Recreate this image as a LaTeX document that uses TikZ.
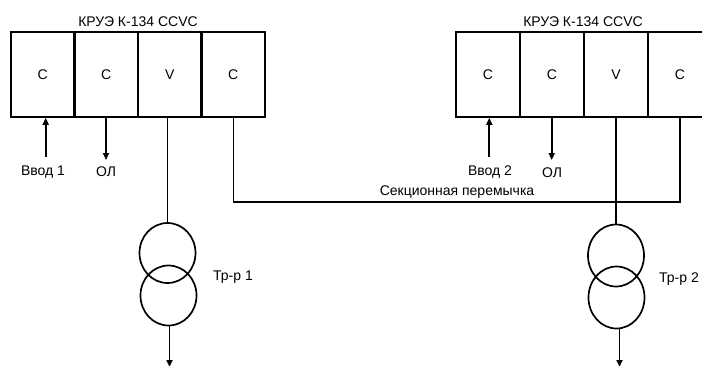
\documentclass[tikz,border=0pt]{standalone}
\usepackage{fontspec}
\setmainfont{Liberation Sans}
\usetikzlibrary{arrows.meta,shapes.geometric}
\begin{document}
\begin{tikzpicture}[x=1pt,y=-1pt,
  txt/.style={font=\fontsize{14}{16}\selectfont},
  cellL/.style={draw,line width=2.2pt,minimum width=63.5pt,minimum height=84.4pt,inner sep=0pt,txt},
  cellR/.style={draw,line width=2.2pt,minimum width=64pt,minimum height=84.4pt,inner sep=0pt,txt},
  lbl/.style={txt,inner sep=0pt},
  wire/.style={line width=1.5pt},
  arr/.style={line width=1.7pt,-{Triangle[length=7pt,width=6pt]}},
  coil/.style={draw,line width=1.7pt,ellipse,minimum width=56pt,minimum height=60pt,inner sep=0pt}]
\useasboundingbox (0,0) rectangle (702,365);
\clip (0,0) rectangle (702,365);
% left switchgear
\node[lbl] (t1) at (138,22) {КРУЭ К-134 CCVC};
\node[cellL] (a1) at (42.75,74.5) {C};
\node[cellL] (a2) at (106.25,74.5) {C};
\node[cellL] (a3) at (169.75,74.5) {V};
\node[cellL] (a4) at (233.25,74.5) {C};
% right switchgear
\node[lbl] (t2) at (583,22) {КРУЭ К-134 CCVC};
\node[cellR] (b1) at (488,74.5) {C};
\node[cellR] (b2) at (552,74.5) {C};
\node[cellR] (b3) at (616,74.5) {V};
\node[cellR] (b4) at (680,74.5) {C};
% feeders
\node[lbl] (v1) at (43,172) {Ввод 1};
\node[lbl] (o1) at (106,172) {ОЛ};
\node[lbl] (v2) at (490,172.5) {Ввод 2};
\node[lbl] (o2) at (552,172.5) {ОЛ};
\coordinate (v1s) at (45.7,157);
\coordinate (o1e) at (106,160);
\coordinate (v2s) at (489.3,157);
\coordinate (o2e) at (551.7,160);
\draw[arr] (v1s) -- (v1s |- a1.south);
\draw[arr] (o1e |- a2.south) -- (o1e);
\draw[arr] (v2s) -- (v2s |- b1.south);
\draw[arr] (o2e |- b2.south) -- (o2e);
% section link
\node[lbl] (sec) at (457,192.5) {Секционная перемычка};
\coordinate (j) at (b4.south |- 0,202);
\draw[wire] (a4.south) |- (j) -- (b4.south);
% transformers
\node[coil] (tr1a) at (167.5,253) {};
\node[coil] (tr1b) at (168.5,295.5) {};
\node[coil,minimum height=62pt] (tr2a) at (616,255.5) {};
\node[coil,minimum height=62pt] (tr2b) at (616.5,297.5) {};
\node[lbl] (tl1) at (233,277) {Тр-р 1};
\node[lbl] (tl2) at (679,279.5) {Тр-р 2};
\draw[wire] (a3.south -| tr1a.north) -- (tr1a.north);
\draw[wire] (b3.south -| tr2a.north) -- (tr2a.north);
\coordinate (e1) at (169.5,367);
\coordinate (e2) at (619.5,367);
\draw[arr] (tr1b.south -| e1) -- (e1);
\draw[arr] (tr2b.south -| e2) -- (e2);
\end{tikzpicture}
\end{document}
